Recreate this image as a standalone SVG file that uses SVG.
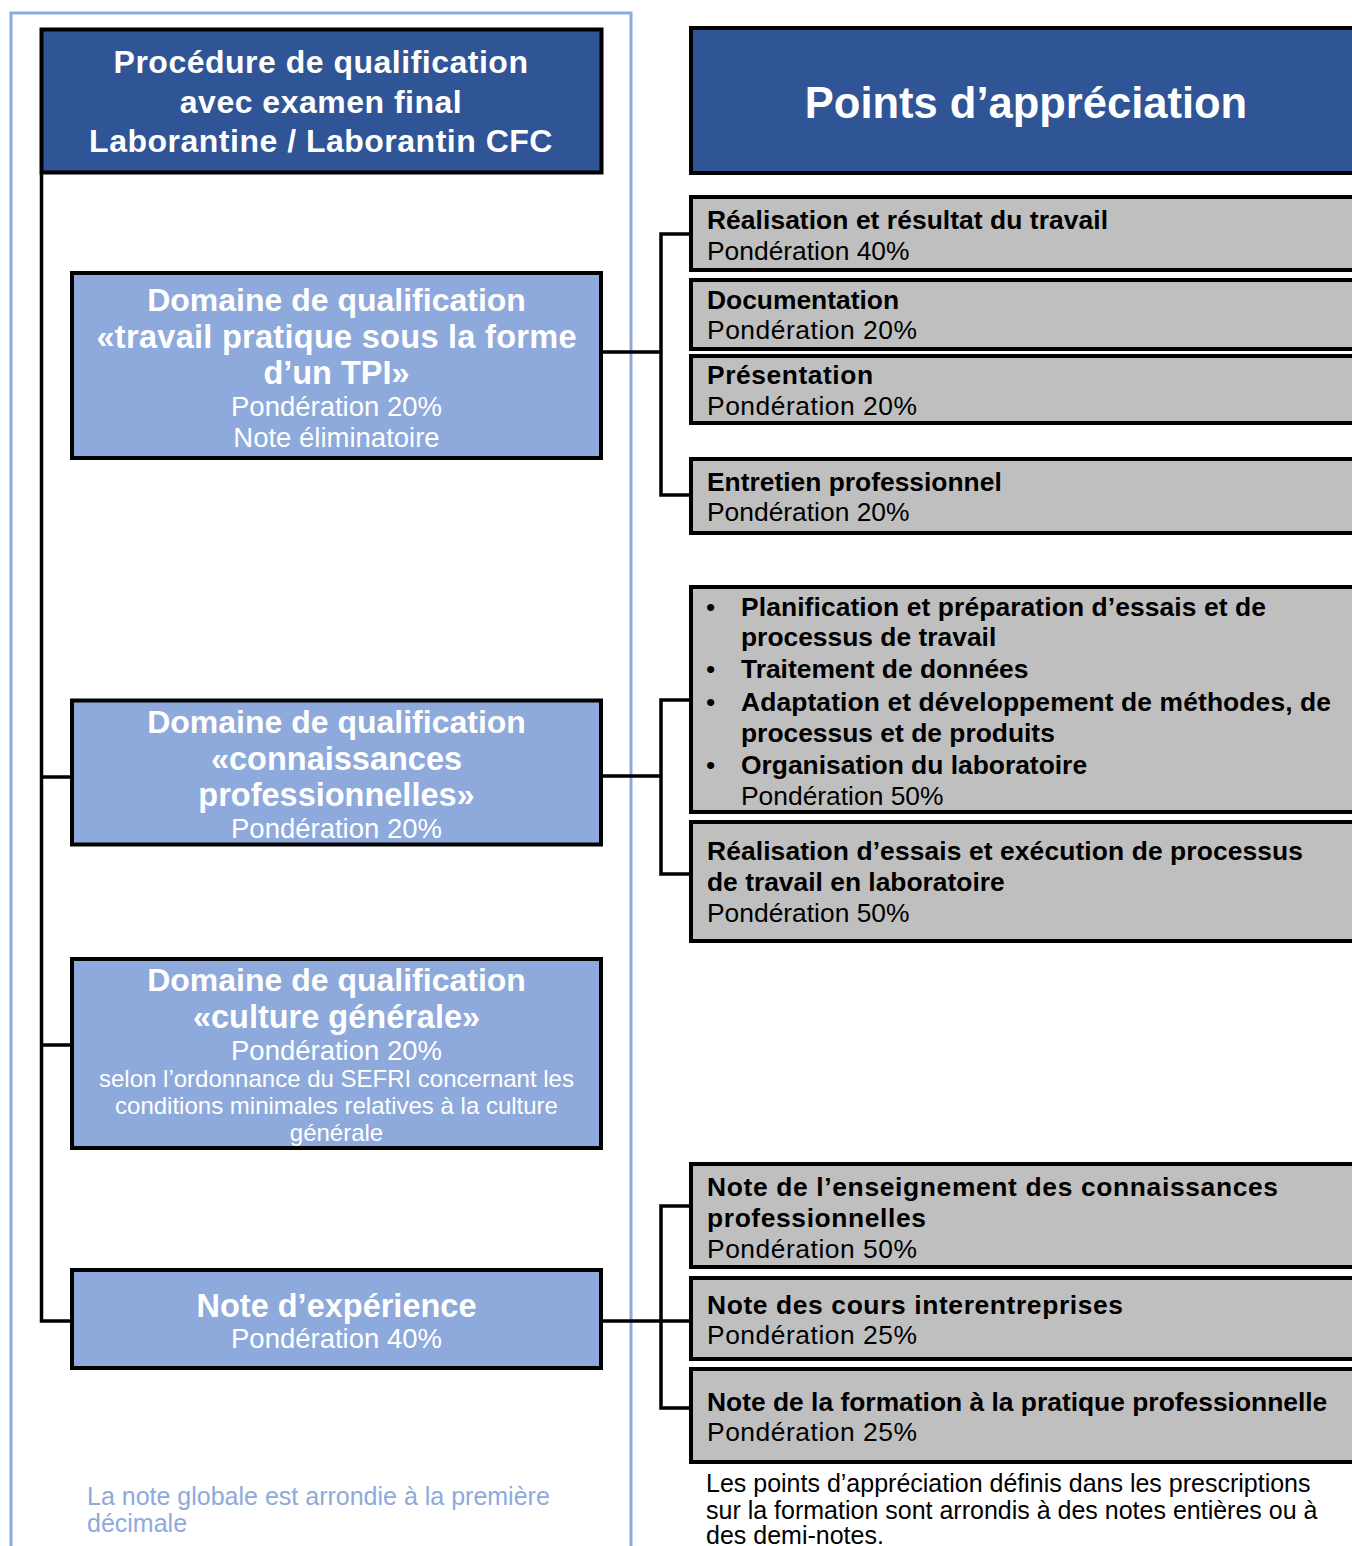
<svg xmlns="http://www.w3.org/2000/svg" width="1352" height="1546" viewBox="0 0 1352 1546">
<style>
text{font-family:"Liberation Sans",Arial,sans-serif}
.dk{fill:#2F5597;stroke:#000;stroke-width:4}
.lb{fill:#8EA9DB;stroke:#000;stroke-width:4}
.gr{fill:#BFBFBF;stroke:#000;stroke-width:4}
.w{fill:#fff;text-anchor:middle}
.wb{fill:#fff;text-anchor:middle;font-weight:bold}
.k{fill:#000}
.kb{fill:#000;font-weight:bold}
.conn{fill:none;stroke:#000;stroke-width:3.5}
</style>
<rect width="1352" height="1546" fill="#fff"/>
<path d="M11,1546 V13 H631 V1546" fill="none" stroke="#8EA9DB" stroke-width="3"/>

<g id="connectors">
<path class="conn" d="M41.5,174 V1321 H72"/>
<path class="conn" d="M41.5,777 H72 M41.5,1045 H72"/>
<path class="conn" d="M601,352 H661 M691,234 H661 V495 H691"/>
<path class="conn" d="M601,776 H661 M691,700 H661 V874 H691"/>
<path class="conn" d="M601,1321 H691 M691,1206 H661 V1408 H691"/>
</g>

<g id="header-left">
<rect class="dk" x="41.5" y="29.5" width="560" height="143"/>
<text class="wb" x="321" y="73" font-size="32" letter-spacing="0.5">Procédure de qualification</text>
<text class="wb" x="321" y="113" font-size="32" letter-spacing="0.5">avec examen final</text>
<text class="wb" x="321" y="152" font-size="32" letter-spacing="0.5">Laborantine / Laborantin CFC</text>
</g>

<g id="domaine-tpi">
<rect class="lb" x="72" y="273" width="529" height="185"/>
<text class="wb" x="336.5" y="310.5" font-size="32">Domaine de qualification</text>
<text class="wb" x="336.5" y="347.5" font-size="32.5" textLength="480" lengthAdjust="spacing">«travail pratique sous la forme</text>
<text class="wb" x="336.5" y="383.5" font-size="32.5">d’un TPI»</text>
<text class="w" x="336.5" y="416" font-size="27.5">Pondération 20%</text>
<text class="w" x="336.5" y="447" font-size="27.5">Note éliminatoire</text>
</g>

<g id="domaine-connaissances">
<rect class="lb" x="72" y="700.5" width="529" height="144"/>
<text class="wb" x="336.5" y="733" font-size="32">Domaine de qualification</text>
<text class="wb" x="336.5" y="769.5" font-size="32.5">«connaissances</text>
<text class="wb" x="336.5" y="806" font-size="32.5">professionnelles»</text>
<text class="w" x="336.5" y="838" font-size="27.5">Pondération 20%</text>
</g>

<g id="domaine-culture">
<rect class="lb" x="72" y="959" width="529" height="189"/>
<text class="wb" x="336.5" y="991" font-size="32">Domaine de qualification</text>
<text class="wb" x="336.5" y="1027.5" font-size="32.5">«culture générale»</text>
<text class="w" x="336.5" y="1060" font-size="27.5">Pondération 20%</text>
<text class="w" x="336.5" y="1087" font-size="24">selon l’ordonnance du SEFRI concernant les</text>
<text class="w" x="336.5" y="1114" font-size="24">conditions minimales relatives à la culture</text>
<text class="w" x="336.5" y="1141" font-size="24">générale</text>
</g>

<g id="note-experience">
<rect class="lb" x="72" y="1270" width="529" height="98"/>
<text class="wb" x="336.5" y="1316.5" font-size="32.5">Note d’expérience</text>
<text class="w" x="336.5" y="1348" font-size="27.5">Pondération 40%</text>
</g>

<text x="87" y="1505" font-size="25" fill="#8EA9DB">La note globale est arrondie à la première</text>
<text x="87" y="1532" font-size="25" fill="#8EA9DB">décimale</text>

<g id="header-right">
<rect class="dk" x="691" y="28" width="680" height="145"/>
<text class="wb" x="1026" y="117.5" font-size="43.5">Points d’appréciation</text>
</g>

<g id="r-realisation">
<rect class="gr" x="691" y="197" width="700" height="73"/>
<text class="kb" x="707" y="228.5" font-size="26.4" textLength="401" lengthAdjust="spacing">Réalisation et résultat du travail</text>
<text class="k" x="707" y="260" font-size="26.4">Pondération 40%</text>
</g>
<g id="r-documentation">
<rect class="gr" x="691" y="280" width="700" height="69"/>
<text class="kb" x="707" y="309" font-size="26.4">Documentation</text>
<text class="k" x="707" y="338.5" font-size="26.4" textLength="210" lengthAdjust="spacing">Pondération 20%</text>
</g>
<g id="r-presentation">
<rect class="gr" x="691" y="356" width="700" height="67"/>
<text class="kb" x="707" y="384" font-size="26.4" textLength="166" lengthAdjust="spacing">Présentation</text>
<text class="k" x="707" y="414.5" font-size="26.4" textLength="210" lengthAdjust="spacing">Pondération 20%</text>
</g>
<g id="r-entretien">
<rect class="gr" x="691" y="459" width="700" height="74"/>
<text class="kb" x="707" y="490.5" font-size="26.4">Entretien professionnel</text>
<text class="k" x="707" y="521" font-size="26.4">Pondération 20%</text>
</g>

<g id="r-planification">
<rect class="gr" x="691" y="587" width="700" height="225"/>
<text class="k" x="706" y="616" font-size="26.4">•</text>
<text class="kb" x="741" y="616" font-size="26.4" textLength="525" lengthAdjust="spacing">Planification et préparation d’essais et de</text>
<text class="kb" x="741" y="646" font-size="26.4">processus de travail</text>
<text class="k" x="706" y="678" font-size="26.4">•</text>
<text class="kb" x="741" y="678" font-size="26.4">Traitement de données</text>
<text class="k" x="706" y="711" font-size="26.4">•</text>
<text class="kb" x="741" y="711" font-size="26.4" textLength="590" lengthAdjust="spacing">Adaptation et développement de méthodes, de</text>
<text class="kb" x="741" y="742" font-size="26.4">processus et de produits</text>
<text class="k" x="706" y="774" font-size="26.4">•</text>
<text class="kb" x="741" y="774" font-size="26.4">Organisation du laboratoire</text>
<text class="k" x="741" y="804.5" font-size="26.4">Pondération 50%</text>
</g>
<g id="r-essais">
<rect class="gr" x="691" y="822" width="700" height="119"/>
<text class="kb" x="707" y="860" font-size="26.4" textLength="596" lengthAdjust="spacing">Réalisation d’essais et exécution de processus</text>
<text class="kb" x="707" y="891" font-size="26.4">de travail en laboratoire</text>
<text class="k" x="707" y="922" font-size="26.4">Pondération 50%</text>
</g>

<g id="r-enseignement">
<rect class="gr" x="691" y="1164" width="700" height="103"/>
<text class="kb" x="707" y="1196" font-size="26.4" textLength="571" lengthAdjust="spacing">Note de l’enseignement des connaissances</text>
<text class="kb" x="707" y="1227" font-size="26.4" textLength="219" lengthAdjust="spacing">professionnelles</text>
<text class="k" x="707" y="1257.5" font-size="26.4" textLength="210" lengthAdjust="spacing">Pondération 50%</text>
</g>
<g id="r-cours">
<rect class="gr" x="691" y="1278" width="700" height="81"/>
<text class="kb" x="707" y="1314" font-size="26.4" textLength="416" lengthAdjust="spacing">Note des cours interentreprises</text>
<text class="k" x="707" y="1343.5" font-size="26.4" textLength="210" lengthAdjust="spacing">Pondération 25%</text>
</g>
<g id="r-pratique">
<rect class="gr" x="691" y="1369" width="700" height="93"/>
<text class="kb" x="707" y="1410.5" font-size="26.4">Note de la formation à la pratique professionnelle</text>
<text class="k" x="707" y="1440.5" font-size="26.4" textLength="210" lengthAdjust="spacing">Pondération 25%</text>
</g>

<text class="k" x="706" y="1491.5" font-size="25">Les points d’appréciation définis dans les prescriptions</text>
<text class="k" x="706" y="1518.5" font-size="25">sur la formation sont arrondis à des notes entières ou à</text>
<text class="k" x="706" y="1544" font-size="25">des demi-notes.</text>
</svg>
